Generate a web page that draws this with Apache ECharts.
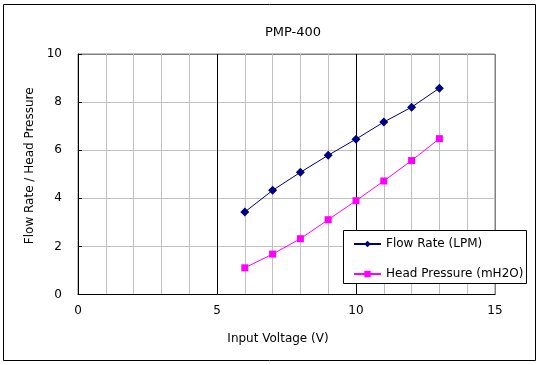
<!DOCTYPE html>
<html>
<head>
<meta charset="utf-8">
<script src="https://cdn.jsdelivr.net/npm/echarts@6/dist/echarts.min.js"></script>
<style>html,body{margin:0;padding:0;background:#fff}#c{width:540px;height:365px}</style>
</head>
<body>
<div id="c"></div>
<script>
const voltage = [6, 7, 8, 9, 10, 11, 12, 13];
const flowRate = [3.43, 4.33, 5.08, 5.79, 6.46, 7.17, 7.79, 8.58];
const headPressure = [1.11, 1.68, 2.32, 3.11, 3.90, 4.72, 5.57, 6.48];
const seriesNames = ['Flow Rate (LPM)', 'Head Pressure (mH2O)'];
const titleText = 'PMP-400';
const xName = 'Input Voltage (V)';
const yName = 'Flow Rate / Head Pressure';

const font = 'DejaVu Sans';
const chart = echarts.init(document.getElementById('c'), null, {renderer: 'canvas'});
const pairs = (ys) => voltage.map((x, i) => [x, ys[i]]);

chart.setOption({
  animation: false,
  backgroundColor: '#fff',
  title: {
    text: titleText, left: 288, top: 21, textAlign: 'center',
    textStyle: {fontFamily: font, fontSize: 13, fontWeight: 'normal', color: '#000'}
  },
  grid: {
    left: 78, right: 45, top: 54, bottom: 70.5,
    show: true, borderColor: '#808080', borderWidth: 1, backgroundColor: '#fff',
    outerBoundsMode: 'none', containLabel: false
  },
  xAxis: {
    type: 'value', min: 0, max: 15, interval: 5,
    name: xName, nameLocation: 'middle', nameGap: 38,
    nameTextStyle: {fontFamily: font, fontSize: 12, color: '#000', padding: [0, 17, 0, 0]},
    axisLine: {show: true, onZero: false, lineStyle: {color: '#000', width: 1}},
    axisTick: {show: false},
    axisLabel: {fontFamily: font, fontSize: 12, color: '#000', margin: 10},
    splitLine: {show: true, lineStyle: {color: ['#808080', '#000', '#000', '#808080'], width: 1}},
    minorTick: {show: false, splitNumber: 5},
    minorSplitLine: {show: true, lineStyle: {color: '#c0c0c0', width: 1}}
  },
  yAxis: {
    type: 'value', min: 0, max: 10, interval: 2,
    name: yName, nameLocation: 'middle', nameGap: 42,
    nameTextStyle: {fontFamily: font, fontSize: 12, color: '#000', padding: [0, 0, 0, 17]},
    axisLine: {show: true, onZero: false, lineStyle: {color: '#000', width: 1}},
    axisTick: {show: true, inside: true, length: 4, lineStyle: {color: '#000'}},
    axisLabel: {fontFamily: font, fontSize: 12, color: '#000', margin: 16},
    splitLine: {show: true, lineStyle: {color: ['#c0c0c0', '#c0c0c0', '#c0c0c0', '#c0c0c0', '#c0c0c0', '#808080'], width: 1}}
  },
  legend: {
    orient: 'vertical', left: 353, top: 238, itemWidth: 27, itemHeight: 8, itemGap: 18,
    padding: 0, z: 20, textStyle: {fontFamily: font, fontSize: 12, color: '#000'},
    data: seriesNames
  },
  graphic: [
    {type: 'rect', z: 100, shape: {x: 3.5, y: 4.5, width: 532, height: 356}, style: {fill: null, stroke: '#000', lineWidth: 1}},
    {type: 'rect', z: 5, shape: {x: 343.5, y: 230.5, width: 183, height: 53}, style: {fill: '#fff', stroke: '#000', lineWidth: 1}}
  ],
  series: [
    {
      name: seriesNames[0], type: 'line', data: pairs(flowRate),
      symbol: 'diamond', symbolSize: 9, showAllSymbol: true,
      lineStyle: {color: '#000080', width: 1}, itemStyle: {color: '#000080'}, z: 3
    },
    {
      name: seriesNames[1], type: 'line', data: pairs(headPressure),
      symbol: 'rect', symbolSize: 7, showAllSymbol: true,
      lineStyle: {color: '#ff00ff', width: 1}, itemStyle: {color: '#ff00ff'}, z: 3
    }
  ]
});
</script>
</body>
</html>
